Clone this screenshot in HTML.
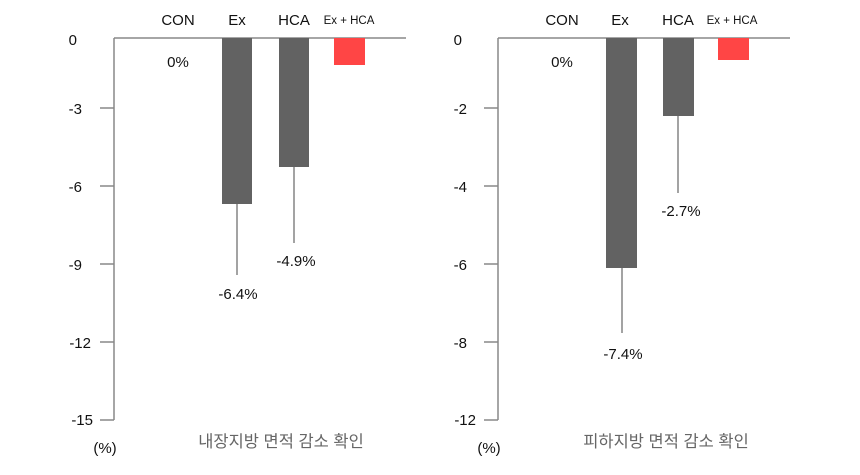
<!DOCTYPE html>
<html><head><meta charset="utf-8"><style>
body{margin:0;background:#fff;}
svg text{font-family:"Liberation Sans","Noto Sans CJK KR",sans-serif;fill:#111;}
</style></head><body>
<svg width="860" height="470" viewBox="0 0 860 470" xmlns="http://www.w3.org/2000/svg">
<g stroke="#888" stroke-width="1.5" fill="none">
<path d="M114 38 H406 M114 38 V420 M100 108 H114 M100 186 H114 M100 264 H114 M100 342 H114 M100 420 H114"/>
<path d="M498 38 H790 M498 38 V420 M484 108 H498 M484 186 H498 M484 264 H498 M484 342 H498 M484 420 H498"/>
</g>
<g stroke="#666" stroke-width="1.2">
<path d="M237 204 V275 M294 167 V243 M622 268 V333 M678 116 V193"/>
</g>
<rect x="222" y="38" width="30" height="166" fill="#626262"/>
<rect x="279" y="38" width="30" height="129" fill="#626262"/>
<rect x="334" y="38" width="31" height="27" fill="#ff4545"/>
<rect x="606" y="38" width="31" height="230" fill="#626262"/>
<rect x="663" y="38" width="31" height="78" fill="#626262"/>
<rect x="718" y="38" width="31" height="22" fill="#ff4545"/>
<g font-size="15">
<text x="178" y="25" text-anchor="middle">CON</text>
<text x="237" y="25" text-anchor="middle">Ex</text>
<text x="294" y="25" text-anchor="middle">HCA</text>
<text x="349" y="24" text-anchor="middle" font-size="11.5">Ex + HCA</text>
<text x="562" y="25" text-anchor="middle">CON</text>
<text x="620" y="25" text-anchor="middle">Ex</text>
<text x="678" y="25" text-anchor="middle">HCA</text>
<text x="732" y="24" text-anchor="middle" font-size="11.5">Ex + HCA</text>
<text x="178" y="67" text-anchor="middle">0%</text>
<text x="562" y="67" text-anchor="middle">0%</text>
<text x="238" y="299" text-anchor="middle">-6.4%</text>
<text x="296" y="266" text-anchor="middle">-4.9%</text>
<text x="623" y="359" text-anchor="middle">-7.4%</text>
<text x="681" y="216" text-anchor="middle">-2.7%</text>
<g text-anchor="end">
<text x="77" y="45">0</text><text x="82" y="114">-3</text><text x="82" y="192">-6</text><text x="82" y="270">-9</text><text x="91" y="348">-12</text><text x="93" y="425">-15</text>
<text x="462" y="45">0</text><text x="467" y="114">-2</text><text x="467" y="192">-4</text><text x="467" y="270">-6</text><text x="467" y="348">-8</text><text x="476" y="425">-12</text>
</g>
<text x="105" y="453" text-anchor="middle">(%)</text>
<text x="489" y="453" text-anchor="middle">(%)</text>
<text x="281" y="447" text-anchor="middle" style="fill:#666" font-size="16.5">내장지방 면적 감소 확인</text>
<text x="666" y="447" text-anchor="middle" style="fill:#666" font-size="16.5">피하지방 면적 감소 확인</text>
</g>
</svg>
</body></html>
